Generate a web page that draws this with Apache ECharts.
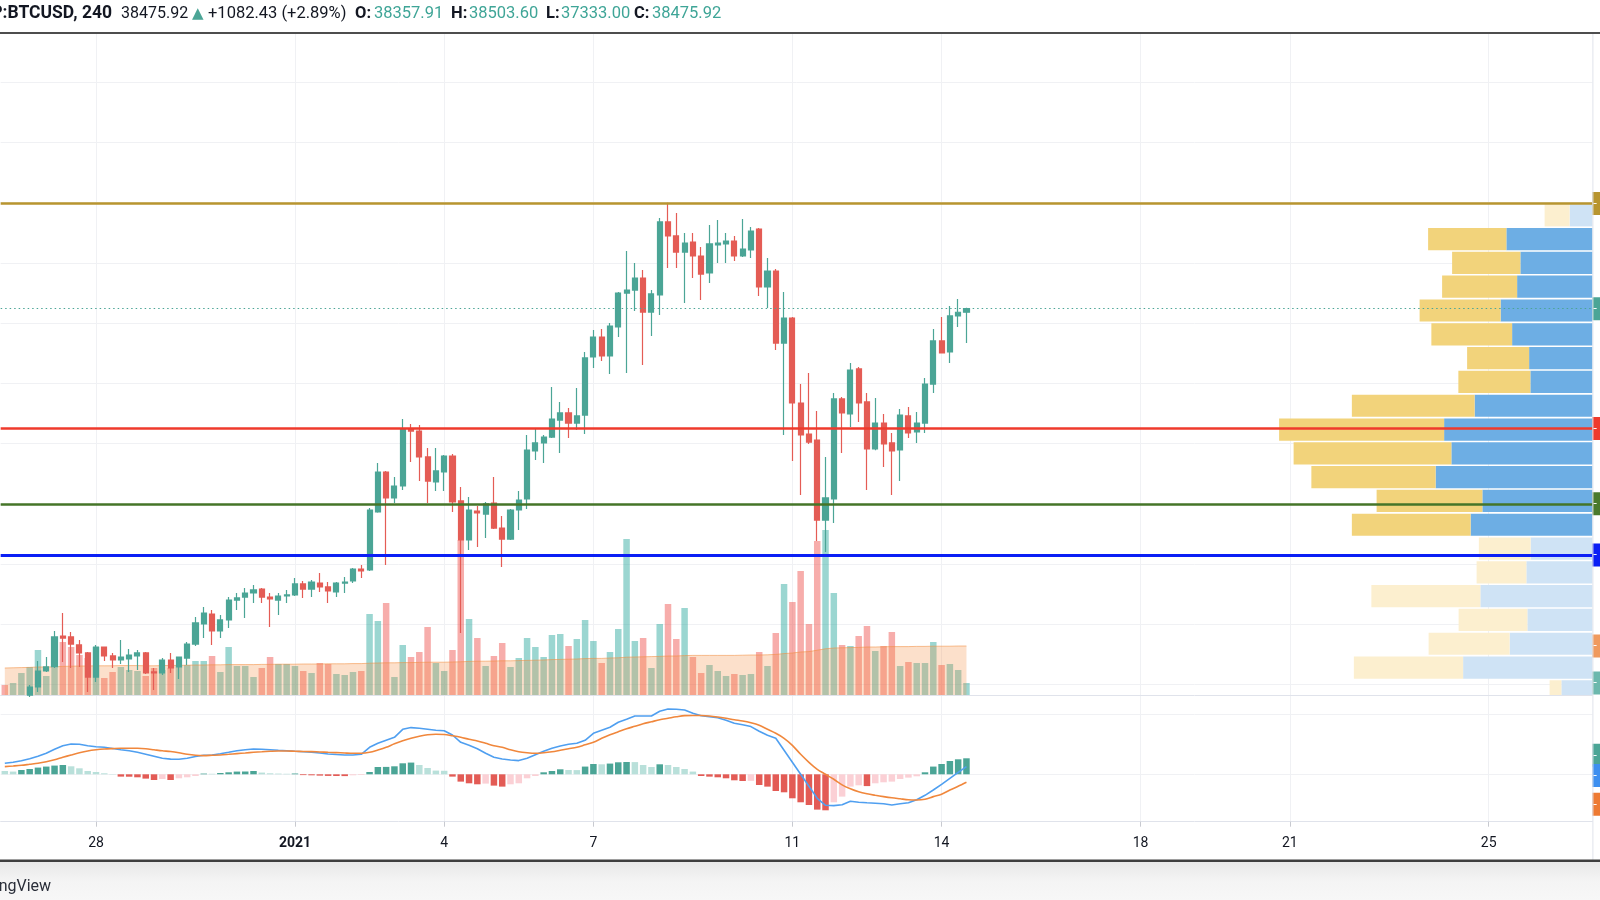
<!DOCTYPE html>
<html><head><meta charset="utf-8">
<script src="https://cdn.jsdelivr.net/npm/echarts@6/dist/echarts.min.js"></script>
<style>html,body{margin:0;padding:0;background:#fff;}#c{width:1600px;height:900px;}</style>
</head><body><div id="c"></div>
<script>
// ---------- DATA ----------
const SYMBOL = 'BITSTAMP:BTCUSD, 240';
const FIRST_SLOT = '2020-12-26 04:00';     // first 4h bar of the visible window
const SLOT_COUNT = 192;                     // visible 4h slots (incl. empty future)
const tickDates  = ['2020-12-28 00:00','2021-01-01 00:00','2021-01-04 00:00','2021-01-07 00:00','2021-01-11 00:00','2021-01-14 00:00','2021-01-18 00:00','2021-01-21 00:00','2021-01-25 00:00'];
const tickLabels = ['28','2021','4','7','11','14','18','21','25'];

// [open, close, low, high]
const candles = [
[25300,25200,25050,25450],[25200,25350,25100,25500],[25350,25550,25250,25620],[25650,25920,25590,25990],
[25920,26450,25755,26785],[26450,26585,26420,26915],[26585,27580,26550,27780],[27610,27545,26750,28375],
[27580,27345,26550,27745],[27315,27050,26585,27480],[27050,26250,25755,27080],[26250,27245,26085,27315],
[27245,26950,26785,27260],[26950,26815,26550,27050],[26815,26915,26685,27480],[26850,26980,26420,27180],
[26950,27050,26485,27150],[27050,26385,26350,27080],[26420,26385,25820,26550],[26385,26815,26320,26880],
[26815,26550,26385,27050],[26585,26915,26185,26930],[26880,27345,26650,27415],[27345,28045,27280,28245],
[28010,28375,27545,28575],[28340,27780,27315,28475],[27780,28145,27545,28310],[28145,28805,27875,28905],
[28805,28875,28475,29040],[28905,29040,28210,29205],[29040,29140,28710,29305],[29170,28905,28710,29205],
[28905,28840,27910,29040],[28805,28940,28310,29040],[28940,28975,28710,29140],[28975,29340,28940,29535],
[29340,29170,28875,29440],[29170,29405,28905,29470],[29370,29240,29075,29705],[29240,29105,28710,29405],
[29075,29370,28905,29405],[29370,29405,29040,29570],[29440,29835,29370,29870],[29835,29770,29535,29970],
[29805,31795,29770,31860],[31730,33055,31700,33355],[33055,32195,29970,33090],[32195,32590,32025,32890],
[32590,34480,32460,34815],[34480,34415,33390,34650],[34415,33555,32755,34615],[33555,32755,32025,33850],
[32725,33090,32425,33850],[33055,33585,32425,33620],[33585,32060,31730,33655],[32095,30800,27710,32560],
[30800,31795,30465,32225],[31760,31695,30565,31925],[31660,31995,30865,32060],[32025,31195,31165,32890],
[31195,30830,29905,31595],[30830,31795,30800,31825],[31795,32125,31130,32425],[32160,33785,31825,34285],
[33755,34020,33455,34480],[34020,34215,33355,34285],[34215,34815,34185,35875],[34780,35015,33685,35380],
[35015,34680,34185,35180],[34680,34915,34450,35845],[34945,36840,34315,37040],[36875,37535,36510,37770],
[37535,36905,36740,37800],[36905,37900,36310,38000],[37870,38995,37535,39030],[38995,39095,36340,40390],
[39095,39495,38400,39990],[39495,38365,36605,39760],[38365,38965,37570,39095],[38930,41355,38265,41485],
[41355,40890,39825,41990],[40890,40355,39825,41650],[40355,40655,38665,40990],[40690,40225,39495,40990],
[40225,39625,38765,40525],[39660,40625,39330,41255],[40590,40655,39990,41420],[40625,40720,39990,40990],
[40720,40225,40060,40890],[40225,40455,40190,41450],[40425,41055,40160,41185],[41120,39195,38895,41155],
[39195,39725,38500,40160],[39725,37335,37105,39795],[37335,38165,34285,39030],[38165,35345,33420,38200],
[35345,34285,32290,35975],[34315,34050,33985,36340],[34115,31460,30765,35080],[31460,32195,30400,33555],
[32160,35480,31360,35680],[35480,35015,33685,35545],[34980,36440,34550,36675],[36475,35345,34715,36540],
[35380,33820,32460,35680],[33820,34680,33780,35510],[34680,33985,33220,34980],[34020,33755,32290,34350],
[33785,34945,32755,35145],[34915,34350,34185,35215],[34385,34680,34020,35045],[34680,35975,34350,36175],
[35975,37405,35680,37800],[37405,37005,36990,38200],[37040,38235,36675,38565],[38235,38358,37870,38795],
[38357.91,38475.92,37333.00,38503.60]
];

const volumes = [
500,600,1100,1400,2250,950,1350,2650,2400,2000,
1850,2400,850,1150,1400,1250,1200,950,1350,1250,
1350,1500,1500,1700,1700,1950,1150,2400,1450,1450,
900,1350,1900,1550,1550,1450,1200,1100,1600,1550,
1050,1000,1150,1200,4050,3700,4600,900,2500,1900,
2150,3400,1600,1200,2250,7750,3800,2850,1450,1950,
2600,1400,1850,2850,2400,1900,3000,3050,2450,2800,
3750,2700,1600,2150,3300,7800,2700,2850,1350,3550,
4550,2800,4350,1900,1100,1500,1200,950,1050,1000,
1050,2150,1450,3100,5550,4650,6200,3550,7700,8250,
5100,2500,2450,2950,3450,2200,2450,3150,1450,1650,
1600,1600,2650,1500,1550,1250,600];

const volumeMA = [
1350,1360,1370,1380,1400,1400,1410,1430,1440,1450,
1450,1460,1460,1460,1470,1470,1470,1460,1460,1470,
1480,1480,1490,1500,1500,1510,1510,1520,1520,1520,
1520,1530,1530,1540,1540,1540,1550,1550,1550,1560,
1560,1560,1570,1570,1590,1600,1610,1610,1620,1620,
1630,1640,1640,1640,1650,1660,1680,1690,1690,1700,
1710,1710,1720,1730,1740,1750,1770,1780,1790,1800,
1820,1830,1830,1850,1860,1890,1900,1910,1920,1930,
1950,1950,1970,1980,1980,1980,1980,1980,1980,1990,
2000,2000,2010,2030,2070,2100,2150,2170,2240,2310,
2350,2360,2370,2380,2400,2400,2410,2420,2420,2420,
2430,2430,2440,2440,2440,2450,2450];

const macdLine = [
275,300,338,388,450,525,625,713,758,750,
713,688,675,645,613,588,550,500,450,400,
380,375,400,445,475,483,513,550,588,613,
633,625,613,600,588,575,563,550,533,508,
495,483,483,500,675,775,850,925,1125,1168,
1150,1125,1100,1088,983,800,725,638,525,425,
383,358,343,400,488,575,650,708,750,775,
850,1025,1100,1175,1300,1375,1458,1458,1458,1575,
1633,1625,1608,1525,1463,1438,1413,1350,1275,1238,
1193,1075,975,900,600,300,0,-300,-600,-775,
-783,-763,-675,-700,-713,-725,-738,-768,-738,-713,
-638,-525,-393,-250,-100,50,193];

const signalLine = [
193,208,225,250,275,313,363,425,483,538,
583,613,633,643,650,650,650,638,613,588,
568,538,500,475,468,475,483,500,518,533,
550,563,575,583,583,575,570,568,558,550,
543,533,525,525,550,608,675,763,838,900,
950,988,1000,995,963,925,875,833,775,713,
675,613,563,538,525,538,563,600,638,675,
738,800,900,988,1063,1138,1200,1263,1313,1363,
1400,1438,1468,1470,1470,1458,1433,1400,1363,1333,
1288,1225,1125,1025,900,725,500,300,125,0,
-125,-263,-363,-438,-488,-525,-558,-588,-613,-638,
-643,-625,-558,-500,-393,-300,-200];

const macdHist = [
83,68,108,133,168,193,218,233,200,150,
83,58,25,8,-58,-60,-75,-108,-143,-118,
-143,-100,-75,-43,18,13,33,50,68,70,
83,43,25,18,13,20,-20,-25,-33,-40,
-43,-45,-25,-18,58,183,185,200,275,293,
233,158,93,88,-58,-183,-225,-250,-233,-283,
-308,-250,-225,-100,-43,50,83,125,108,105,
193,258,250,268,300,308,305,233,183,250,
233,183,133,68,-43,-58,-75,-100,-150,-168,
-163,-268,-308,-418,-450,-600,-700,-768,-883,-900,
-700,-558,-308,-275,-295,-225,-200,-183,-118,-83,
-50,50,193,258,333,375,400];

// visible-range volume profile (rows from top)
const vpRowTop    = [41970,41180,40390,39600,38810,38020,37230,36440,35650,34860,34070,33280,32490,31700,30910,30120,29330,28540,27750,26960,26170];
const VP_ROW_SIZE = 790;
const vpDown      = [2000,6260,5460,6000,6480,6460,4960,5760,9820,13200,12620,9940,8460,9500,4140,3980,8720,5500,6480,8740,940];
const vpUp        = [1820,6880,5760,6020,7340,6420,5060,4960,9420,11860,11280,12540,8800,9740,4940,5280,8960,5200,6620,10340,2480];
const vpValueArea = [0,1,1,1,1,1,1,1,1,1,1,1,1,1,0,0,0,0,0,0,0];

// horizontal levels
const LEVEL_GOLD = 41970, LEVEL_RED = 34500, LEVEL_GREEN = 32000, LEVEL_BLUE = 30300;
const priceGridLevels = [26000, 46000, 2000];   // min, max, step of price grid lines
const macdGridLevels  = [0, 1500, 1500];

// ---------- LAYOUT / STYLE ----------
const FONT = 'Roboto, "Noto Sans", "DejaVu Sans", sans-serif';
const UP = '#4ba596', DOWN = '#e45c55';
const PANE_LEFT = 0.66, PANE_W = 1591.7;
const MAIN_TOP = 33, MAIN_H = 662;
const PRICE_MIN = 25654, PRICE_MAX = 47626;
const MACD_TOP = 696, MACD_H = 125.7, MACD_MIN = -1185, MACD_MAX = 1957.5;
const GRIDC = '#f0f1f4';
const NOLINE = {width:0, color:'rgba(0,0,0,0)'};

function fmtSlot(t){const d=new Date(t);const p=n=>String(n).padStart(2,'0');return d.getUTCFullYear()+'-'+p(d.getUTCMonth()+1)+'-'+p(d.getUTCDate())+' '+p(d.getUTCHours())+':00';}
const startMs = Date.parse(FIRST_SLOT.replace(' ','T')+':00Z');
const categories = [];
for (let i=0;i<SLOT_COUNT;i++) categories.push(fmtSlot(startMs + i*4*3600*1000));
const tickMap = new Map(tickDates.map((d,i)=>[d,tickLabels[i]]));
const isTick = (idx, val) => tickMap.has(val !== undefined ? val : categories[idx]);

const last = candles.length - 1;
const lastClose = candles[last][1];
const isUp = i => candles[i][1] >= candles[i][0];

const histData = macdHist.map((v,i)=>{
  const prev = i>0 ? macdHist[i-1] : v;
  let c;
  if (v >= 0) c = v > prev ? '#4ba596' : '#b9e0da';
  else c = v < prev ? '#e35b55' : '#fbd0d5';
  return {value:v, itemStyle:{color:c}};
});

const tagLabel = {show:true, position:'end', distance:0, color:'#fff', fontFamily:FONT, fontSize:13, lineHeight:15, padding:[4,8,4,1],
  formatter: p => '- ' + Number(p.value).toFixed(2)};

const grids = [
  {left:PANE_LEFT, width:PANE_W, top:MAIN_TOP, height:MAIN_H},            // 0 price
  {left:PANE_LEFT, width:PANE_W, top:495, height:200},                     // 1 volume
  {left:PANE_LEFT, width:PANE_W, top:MAIN_TOP, height:MAIN_H},            // 2 volume profile
  {left:PANE_LEFT, width:PANE_W, top:MACD_TOP, height:MACD_H},            // 3 macd
  {left:PANE_LEFT, width:PANE_W, top:81.98, height:602.59},               // 4 price grid lines
  {left:PANE_LEFT, width:PANE_W, top:714.3, height:60}                    // 5 macd grid lines
];

const hiddenCat = gi => ({type:'category', gridIndex:gi, data:categories, boundaryGap:true, show:false});
const option = {
  animation:false,
  backgroundColor:'#ffffff',
  textStyle:{fontFamily:FONT},
  grid: grids,
  xAxis: [
    {type:'category', gridIndex:0, data:categories, boundaryGap:true,
     axisLine:{show:true, onZero:false, lineStyle:{color:'#e0e3eb', width:1}}, axisTick:{show:false}, axisLabel:{show:false},
     splitLine:{show:true, interval:isTick, alignWithLabel:true, lineStyle:{color:GRIDC, width:1}}},
    hiddenCat(1),
    {type:'value', gridIndex:2, inverse:true, min:0, max:PANE_W*80, show:false},
    {type:'category', gridIndex:3, data:categories, boundaryGap:true,
     axisLine:{show:true, onZero:false, lineStyle:{color:'#e0e3eb', width:1}},
     axisTick:{show:true, interval:isTick, alignWithLabel:true, length:5, lineStyle:{color:'#c8cad0'}},
     axisLabel:{show:true, interval:isTick, margin:15, color:'#131722', fontSize:14, fontFamily:FONT,
       formatter: v => { const l = tickMap.get(v); if (!l) return ''; return l === '2021' ? '{b|2021}' : l; },
       rich:{b:{fontWeight:'bold', fontSize:14, color:'#131722', fontFamily:FONT}}},
     splitLine:{show:true, interval:isTick, alignWithLabel:true, lineStyle:{color:GRIDC, width:1}}},
    {type:'value', gridIndex:4, show:false, min:0, max:1},
    {type:'value', gridIndex:5, show:false, min:0, max:1}
  ],
  yAxis: [
    {type:'value', gridIndex:0, min:PRICE_MIN, max:PRICE_MAX, show:false, splitLine:{show:false}},
    {type:'value', gridIndex:1, min:0, max:10000, show:false, splitLine:{show:false}},
    {type:'value', gridIndex:2, min:PRICE_MIN, max:PRICE_MAX, show:false, splitLine:{show:false}},
    {type:'value', gridIndex:3, min:MACD_MIN, max:MACD_MAX, show:false, splitLine:{show:false}},
    {type:'value', gridIndex:4, min:priceGridLevels[0], max:priceGridLevels[1], interval:priceGridLevels[2],
      axisLine:{show:false}, axisTick:{show:false}, axisLabel:{show:false}, splitLine:{show:true, lineStyle:{color:GRIDC, width:1}}},
    {type:'value', gridIndex:5, min:macdGridLevels[0], max:macdGridLevels[1], interval:macdGridLevels[2],
      axisLine:{show:false}, axisTick:{show:false}, axisLabel:{show:false}, splitLine:{show:true, lineStyle:{color:GRIDC, width:1}}}
  ],
  series: [
    {type:'line', xAxisIndex:4, yAxisIndex:4, data:[], silent:true},
    {type:'line', xAxisIndex:5, yAxisIndex:5, data:[], silent:true},
    {type:'bar', name:'Volume', xAxisIndex:1, yAxisIndex:1, z:1, barWidth:6.5, silent:true,
      data: volumes.map((v,i)=>({value:v, itemStyle:{color: isUp(i) ? 'rgba(38,166,154,0.46)' : 'rgba(239,83,80,0.48)'}})),
      markLine:{symbol:['none','none'], silent:true, animation:false, lineStyle:NOLINE,
        label:Object.assign({}, tagLabel, {formatter: p => '- ' + p.value}),
        data:[{yAxis: volumes[last], lineStyle:NOLINE, label:{backgroundColor:'#6cb8ad'}}]}},
    {type:'line', name:'Vol MA', xAxisIndex:1, yAxisIndex:1, z:2, data:volumeMA, symbol:'none', silent:true,
      lineStyle:{color:'rgba(242,140,60,0.55)', width:1}, areaStyle:{color:'rgba(242,140,60,0.38)', origin:'start'},
      markLine:{symbol:['none','none'], silent:true, animation:false, lineStyle:NOLINE,
        label:Object.assign({}, tagLabel, {formatter: p => '- ' + p.value}),
        data:[{yAxis: volumeMA[last], lineStyle:NOLINE, label:{backgroundColor:'#f09a5e'}}]}},
    {type:'custom', name:'VPVR', xAxisIndex:2, yAxisIndex:2, z:2, silent:true, clip:true,
      data: vpRowTop.map((t,i)=>[t, t - VP_ROW_SIZE, vpDown[i], vpUp[i], vpValueArea[i]]),
      encode:{x:2, y:0},
      renderItem:(params, api)=>{
        const top = api.value(0), bot = api.value(1), dn = api.value(2), up = api.value(3), va = api.value(4);
        const pTop = api.coord([0, top]), pBot = api.coord([0, bot]);
        const xUp = api.coord([up, top])[0], xAll = api.coord([up + dn, top])[0];
        const y0 = pTop[1] + 0.8, h = pBot[1] - pTop[1] - 1.6;
        return {type:'group', children:[
          {type:'rect', shape:{x:xUp, y:y0, width:pTop[0]-xUp, height:h}, style:{fill: va ? '#6daee4' : '#cfe3f5'}},
          {type:'rect', shape:{x:xAll, y:y0, width:xUp-xAll, height:h}, style:{fill: va ? '#f2d37b' : '#fcefcf'}}
        ]};
      }},
    {type:'candlestick', name:'BTCUSD', xAxisIndex:0, yAxisIndex:0, z:3, barWidth:5.6, clip:true, silent:true,
      data: candles.map(c=>[c[0], c[1], c[2], c[3]]),
      itemStyle:{color:UP, color0:DOWN, borderColor:UP, borderColor0:DOWN, borderWidth:1.2},
      markLine:{symbol:['none','none'], silent:true, animation:false, label:tagLabel,
        data:[
          {yAxis:LEVEL_GOLD,  lineStyle:{color:'#b8952f', width:2.5, type:'solid'}, label:{backgroundColor:'#b8952f'}},
          {yAxis:LEVEL_RED,   lineStyle:{color:'#ef3a2c', width:2.5, type:'solid'}, label:{backgroundColor:'#ef3a2c'}},
          {yAxis:LEVEL_GREEN, lineStyle:{color:'#457528', width:2.5, type:'solid'}, label:{backgroundColor:'#4a7a2d'}},
          {yAxis:LEVEL_BLUE,  lineStyle:{color:'#0b1ff5', width:3,   type:'solid'}, label:{backgroundColor:'#0b1ff5'}},
          {yAxis:lastClose,   lineStyle:{color:'#4ba596', width:1, type:[1.5,3]}, label:{backgroundColor:'#4ba596'}}
        ]}},
    {type:'bar', name:'Histogram', xAxisIndex:3, yAxisIndex:3, z:2, barWidth:6.5, silent:true, data:histData,
      markLine:{symbol:['none','none'], silent:true, animation:false, lineStyle:NOLINE,
        label:Object.assign({}, tagLabel, {offset:[0,-3]}), data:[{yAxis:macdHist[last], lineStyle:NOLINE, label:{backgroundColor:'#4ba596'}}]}},
    {type:'line', name:'MACD', xAxisIndex:3, yAxisIndex:3, z:3, data:macdLine, symbol:'none', silent:true,
      lineStyle:{color:'#4f9ff0', width:1.6},
      markLine:{symbol:['none','none'], silent:true, animation:false, lineStyle:NOLINE,
        label:Object.assign({}, tagLabel, {offset:[0,9]}), data:[{yAxis:macdLine[last], lineStyle:NOLINE, label:{backgroundColor:'#3d8ff0'}}]}},
    {type:'line', name:'Signal', xAxisIndex:3, yAxisIndex:3, z:3, data:signalLine, symbol:'none', smooth:0.3, silent:true,
      lineStyle:{color:'#f0873c', width:1.6},
      markLine:{symbol:['none','none'], silent:true, animation:false, lineStyle:NOLINE,
        label:Object.assign({}, tagLabel, {offset:[0,22]}), data:[{yAxis:signalLine[last], lineStyle:NOLINE, label:{backgroundColor:'#ee7a32'}}]}}
  ],
  graphic: [
    {type:'rect', z:100, shape:{x:0, y:32, width:1600, height:2}, style:{fill:'#4e4e4e'}},
    {type:'rect', z:100, shape:{x:1592.4, y:34, width:1, height:826}, style:{fill:'#e0e3eb'}},
    {type:'rect', z:100, shape:{x:0, y:862, width:1600, height:38},
      style:{fill:new echarts.graphic.LinearGradient(0,0,0,1,[{offset:0,color:'#e8e8e8'},{offset:0.5,color:'#f4f4f4'},{offset:1,color:'#f7f7f7'}])}},
    {type:'rect', z:101, shape:{x:0, y:859.5, width:1600, height:2.5}, style:{fill:'#3e3e3e'}},
    {type:'text', z:102, x:-37, y:887, style:{text:'TradingView', fill:'#2a2e39', font:'16px '+FONT, verticalAlign:'middle'}},
    {type:'text', z:102, x:112, y:14, style:{text:SYMBOL, fill:'#131722', font:'bold 17.5px '+FONT, align:'right', verticalAlign:'middle'}},
    {type:'text', z:102, x:121, y:14, style:{text:'38475.92', fill:'#131722', font:'16px '+FONT, verticalAlign:'middle'}},
    {type:'text', z:102, x:192, y:14, style:{text:'▲', fill:'#4ba596', font:'15px "DejaVu Sans", sans-serif', verticalAlign:'middle'}},
    {type:'text', z:102, x:208, y:14, style:{text:'+1082.43 (+2.89%)', fill:'#131722', font:'16.5px '+FONT, verticalAlign:'middle'}},
    {type:'text', z:102, x:355, y:14, style:{text:'O:', fill:'#131722', font:'bold 16.5px '+FONT, verticalAlign:'middle'}},
    {type:'text', z:102, x:374, y:14, style:{text:'38357.91', fill:'#3fa597', font:'16.5px '+FONT, verticalAlign:'middle'}},
    {type:'text', z:102, x:451, y:14, style:{text:'H:', fill:'#131722', font:'bold 16.5px '+FONT, verticalAlign:'middle'}},
    {type:'text', z:102, x:469, y:14, style:{text:'38503.60', fill:'#3fa597', font:'16.5px '+FONT, verticalAlign:'middle'}},
    {type:'text', z:102, x:546, y:14, style:{text:'L:', fill:'#131722', font:'bold 16.5px '+FONT, verticalAlign:'middle'}},
    {type:'text', z:102, x:561, y:14, style:{text:'37333.00', fill:'#3fa597', font:'16.5px '+FONT, verticalAlign:'middle'}},
    {type:'text', z:102, x:634, y:14, style:{text:'C:', fill:'#131722', font:'bold 16.5px '+FONT, verticalAlign:'middle'}},
    {type:'text', z:102, x:652, y:14, style:{text:'38475.92', fill:'#3fa597', font:'16.5px '+FONT, verticalAlign:'middle'}}
  ]
};

const chart = echarts.init(document.getElementById('c'), null, {renderer:'canvas', width:1600, height:900});
chart.setOption(option);
</script></body></html>
